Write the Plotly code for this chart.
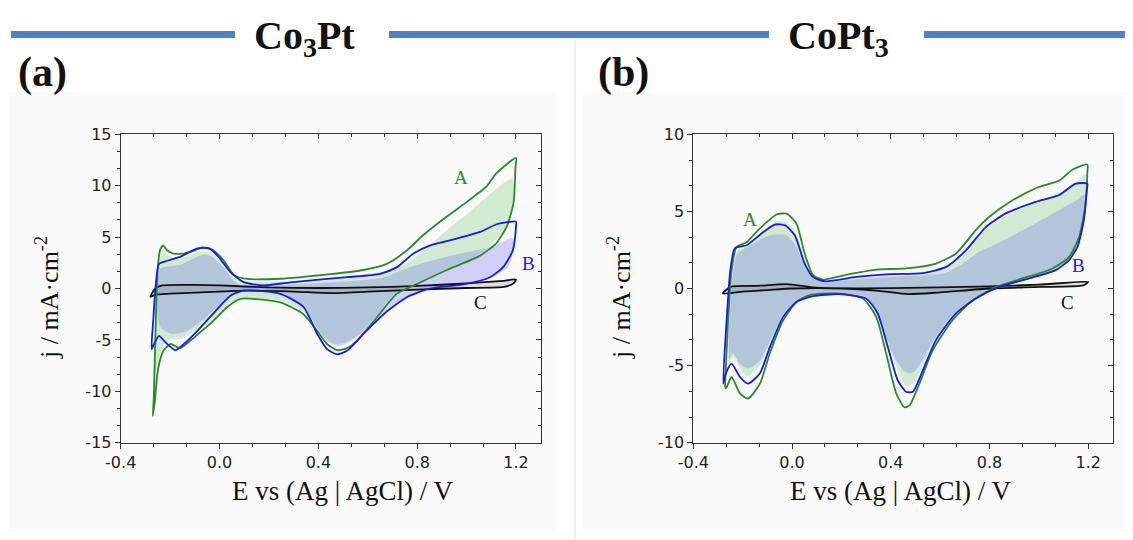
import plotly.graph_objects as go

WIN_W, WIN_H = 1133, 540
OX, OY = 8, 8  # page (body) offset of the figure inside the browser window
W, H = WIN_W - OX, WIN_H - OY  # figure size so the page does not overflow the window

# ---------------- data: panel (a) Co3Pt ----------------
a_A_x = [-0.270, -0.266, -0.261, -0.256, -0.250, -0.240, -0.228, -0.212, -0.186, -0.146, -0.100, -0.070, -0.030,
         0.018, 0.058, 0.105, 0.246, 0.448, 0.582, 0.677, 0.758, 0.825, 0.920, 1.000, 1.080, 1.120, 1.200,
         1.198, 1.190, 1.162, 1.120, 1.055, 0.920, 0.800, 0.718, 0.637, 0.556, 0.516, 0.476, 0.435, 0.395,
         0.340, 0.246, 0.085, 0.031, -0.023, -0.090, -0.160, -0.198, -0.228, -0.250, -0.262, -0.270]
a_A_y = [-12.4, -10.5, -6.0, -1.5, 2.0, 3.8, 4.2, 3.7, 3.4, 3.4, 3.7, 4.0, 3.8,
         2.7, 1.3, 0.95, 0.95, 1.4, 1.8, 2.4, 3.7, 5.2, 7.0, 8.4, 9.9, 11.2, 12.7,
         11.8, 8.3, 6.0, 4.4, 3.2, 1.8, 0.45, -0.5, -2.8, -5.1, -5.8, -6.0, -5.4, -4.1,
         -2.5, -1.35, -1.0, -1.8, -3.1, -4.5, -5.8, -5.4, -6.1, -8.0, -11.0, -12.4]

a_B_x = [-0.275, -0.268, -0.259, -0.245, -0.211, -0.158, -0.090, -0.043, -0.003, 0.044, 0.098, 0.179, 0.287,
         0.516, 0.650, 0.718, 0.785, 0.853, 0.960, 1.055, 1.122, 1.200,
         1.200, 1.187, 1.149, 1.095, 0.987, 0.853, 0.758, 0.664, 0.583, 0.516, 0.476, 0.435, 0.395,
         0.340, 0.246, 0.098, 0.044, -0.009, -0.077, -0.144, -0.178, -0.218, -0.245, -0.265, -0.275]
a_B_y = [-5.9, -3.0, 0.1, 2.4, 2.7, 3.1, 3.9, 3.9, 3.06, 1.6, 0.62, 0.3, 0.6,
         1.1, 1.43, 2.08, 3.4, 4.2, 4.86, 5.5, 6.25, 6.5,
         6.0, 3.7, 2.1, 1.1, 0.4, 0.0, -0.85, -2.5, -4.4, -6.06, -6.4, -5.9, -4.4,
         -1.8, -0.52, -0.2, -0.7, -2.0, -3.8, -5.4, -6.0, -5.25, -4.6, -5.4, -5.9]

a_C_x = [-0.280, -0.260, -0.232, -0.100, 0.000, 0.200, 0.400, 0.600, 0.800, 1.000, 1.150, 1.200,
         1.190, 1.150, 1.000, 0.800, 0.600, 0.450, 0.300, 0.100, -0.100, -0.200, -0.260, -0.280]
a_C_y = [-0.8, 0.0, 0.3, 0.35, 0.3, 0.1, 0.05, 0.1, 0.25, 0.5, 0.75, 0.88,
         0.5, 0.15, 0.05, -0.1, -0.3, -0.45, -0.3, -0.2, -0.4, -0.5, -0.6, -0.8]

a_fillA_x = [-0.265, -0.255, -0.245, -0.230, -0.190, -0.140, -0.070, -0.030, 0.020, 0.060, 0.100, 0.300,
             0.500, 0.650, 0.750, 0.850, 0.920, 1.000, 1.100, 1.185,
             1.190, 1.160, 1.100, 1.050, 0.920, 0.800, 0.720, 0.640, 0.560, 0.500, 0.470, 0.430, 0.390,
             0.340, 0.250, 0.090, 0.030, -0.020, -0.090, -0.160, -0.200, -0.230, -0.250, -0.265]
a_fillA_y = [-8.5, -1.0, 2.5, 3.6, 3.0, 3.1, 3.6, 3.4, 2.3, 1.0, 0.7, 0.7,
             1.1, 1.6, 2.3, 4.2, 5.7, 7.2, 9.3, 10.7,
             8.0, 5.8, 4.3, 3.3, 1.9, 0.6, -0.3, -2.5, -4.6, -5.3, -5.4, -4.9, -3.8,
             -2.3, -1.2, -0.9, -1.6, -2.8, -4.0, -4.9, -5.0, -5.6, -7.5, -8.5]

a_fillB_x = [-0.250, -0.240, -0.158, -0.065, -0.030, 0.018, 0.060, 0.100, 0.250, 0.448, 0.650, 0.785,
             0.920, 1.055, 1.095, 1.176, 1.188,
             1.188, 1.170, 1.120, 1.050, 0.950, 0.850, 0.760, 0.660, 0.580, 0.520, 0.480, 0.440, 0.400,
             0.340, 0.250, 0.100, 0.040, -0.010, -0.080, -0.140, -0.198, -0.238, -0.250]
a_fillB_y = [-3.0, 1.9, 2.3, 3.3, 3.1, 2.0, 0.7, 0.2, 0.3, 0.6, 1.0, 2.2,
             3.1, 3.8, 4.0, 4.9, 4.9,
             3.5, 2.2, 1.3, 0.7, 0.35, 0.0, -0.8, -2.4, -4.2, -5.3, -5.6, -5.2, -4.0,
             -1.8, -0.5, -0.2, -0.7, -1.8, -3.3, -4.2, -4.4, -3.8, -3.0]

# ---------------- data: panel (b) CoPt3 ----------------
b_A_x = [-0.272, -0.259, -0.245, -0.225, -0.184, -0.130, -0.063, -0.022, 0.018, 0.051, 0.085, 0.125, 0.233,
         0.341, 0.462, 0.583, 0.664, 0.745, 0.799, 0.880, 0.987, 1.082, 1.135, 1.196,
         1.196, 1.189, 1.163, 1.122, 1.055, 0.933, 0.826, 0.731, 0.650, 0.570, 0.516, 0.476, 0.455, 0.422,
         0.381, 0.341, 0.287, 0.180, 0.071, 0.018, -0.036, -0.090, -0.130, -0.178, -0.211, -0.245, -0.265, -0.272]
b_A_y = [-6.4, -2.06, 1.19, 2.7, 3.0, 3.9, 4.8, 4.85, 4.2, 2.27, 0.86, 0.58, 0.93,
         1.23, 1.3, 1.62, 2.27, 3.8, 4.65, 5.6, 6.5, 7.0, 7.7, 8.05,
         7.5, 5.5, 3.35, 2.05, 1.3, 0.65, 0.1, -0.76, -2.06, -4.0, -6.17, -7.58, -7.7, -6.8,
         -4.2, -1.84, -0.65, -0.32, -0.43, -0.87, -2.06, -4.2, -6.17, -7.14, -6.8, -5.74, -6.4, -6.5]

b_B_x = [-0.279, -0.265, -0.250, -0.232, -0.184, -0.124, -0.070, -0.029, 0.011, 0.051, 0.085, 0.132, 0.260,
         0.395, 0.530, 0.624, 0.705, 0.786, 0.866, 0.987, 1.082, 1.149, 1.196,
         1.194, 1.182, 1.156, 1.122, 1.068, 0.960, 0.839, 0.745, 0.664, 0.583, 0.530, 0.489, 0.462, 0.428,
         0.388, 0.347, 0.300, 0.193, 0.085, 0.018, -0.036, -0.090, -0.130, -0.178, -0.211, -0.245, -0.268, -0.279]
b_B_y = [-6.17, -2.06, 1.19, 2.6, 2.8, 3.57, 4.15, 4.1, 3.46, 1.62, 0.75, 0.47, 0.75,
         0.93, 1.0, 1.4, 2.49, 4.0, 4.87, 5.62, 6.06, 6.8, 6.8,
         6.4, 4.43, 2.7, 1.84, 1.19, 0.65, 0.1, -0.65, -1.62, -3.35, -5.3, -6.7, -6.7, -5.95,
         -3.8, -1.62, -0.65, -0.37, -0.5, -0.87, -1.84, -3.8, -5.5, -6.17, -5.74, -4.87, -5.5, -6.17]

b_C_x = [-0.280, -0.250, -0.144, -0.023, 0.050, 0.100, 0.400, 0.800, 1.000, 1.200,
         1.180, 1.000, 0.800, 0.600, 0.470, 0.350, 0.200, 0.000, -0.100, -0.200, -0.280]
b_C_y = [-0.32, 0.1, 0.17, 0.28, 0.15, 0.05, 0.02, 0.14, 0.25, 0.43,
         0.2, 0.1, 0.0, -0.25, -0.37, -0.15, 0.0, 0.0, -0.1, -0.2, -0.32]

b_fillA_x = [-0.255, -0.240, -0.220, -0.180, -0.130, -0.070, -0.030, 0.010, 0.050, 0.085, 0.130, 0.260,
             0.400, 0.530, 0.620, 0.700, 0.790, 0.870, 0.960, 1.080, 1.150, 1.190,
             1.190, 1.180, 1.160, 1.120, 1.070, 0.960, 0.840, 0.740, 0.660, 0.580, 0.530, 0.490, 0.460,
             0.430, 0.390, 0.350, 0.300, 0.190, 0.080, 0.020, -0.035, -0.090, -0.130, -0.180, -0.210,
             -0.240, -0.255]
b_fillA_y = [-5.0, 2.0, 2.5, 2.7, 3.5, 4.3, 4.4, 3.8, 2.0, 0.75, 0.5, 0.75,
             0.95, 1.05, 1.4, 2.4, 3.9, 4.75, 5.4, 6.2, 6.9, 7.4,
             6.5, 4.5, 2.7, 1.8, 1.2, 0.6, 0.1, -0.7, -1.7, -3.4, -5.0, -6.2, -6.3,
             -5.4, -3.6, -1.6, -0.6, -0.35, -0.5, -0.85, -1.8, -3.6, -5.0, -5.7, -5.2,
             -4.4, -5.0]

b_fillB_x = [-0.255, -0.225, -0.158, -0.090, -0.023, 0.018, 0.058, 0.099, 0.130, 0.260, 0.400, 0.530,
             0.620, 0.690, 0.760, 0.830, 0.960, 1.050, 1.150, 1.185,
             1.185, 1.160, 1.120, 1.070, 0.960, 0.840, 0.745, 0.660, 0.580, 0.530, 0.500, 0.476, 0.450,
             0.420, 0.385, 0.345, 0.300, 0.190, 0.085, 0.020, -0.035, -0.090, -0.130, -0.180, -0.210,
             -0.240, -0.255]
b_fillB_y = [-4.6, 2.16, 2.9, 3.46, 3.46, 2.7, 1.19, 0.65, 0.4, 0.6, 0.75, 0.85,
             1.0, 1.6, 2.4, 2.9, 4.0, 4.8, 5.7, 6.1,
             4.5, 2.8, 1.9, 1.25, 0.7, 0.12, -0.6, -1.55, -3.2, -4.6, -5.3, -5.5, -5.3,
             -4.6, -3.3, -1.5, -0.55, -0.3, -0.45, -0.8, -1.7, -3.4, -4.7, -5.2, -4.9,
             -4.2, -4.6]

# ---------------- axes ticks ----------------
x_ticks = [-0.4, 0.0, 0.4, 0.8, 1.2]
x_ticktext = ["-0.4", "0.0", "0.4", "0.8", "1.2"]
ya_ticks = [-15, -10, -5, 0, 5, 10, 15]
ya_ticktext = ["-15", "-10", "-5", "0", "5", "10", "15"]
yb_ticks = [-10, -5, 0, 5, 10]
yb_ticktext = ["-10", "-5", "0", "5", "10"]

GREEN = "#2a8a2a"
BLUE = "#1a1ae0"
BLACK = "#111111"
FILL_GREEN = "rgba(120,200,120,0.30)"
FILL_BLUE = "rgba(100,100,240,0.28)"
FILL_C = "rgba(60,60,90,0.14)"
LW = 1.8

fig = go.Figure()


def add_panel(xa, ya, xo, yo, fa_x, fa_y, fb_x, fb_y, A_x, A_y, B_x, B_y, C_x, C_y):
    common = dict(xaxis=xa, yaxis=ya, mode="lines", hoverinfo="skip", showlegend=False)
    fig.add_trace(go.Scatter(x=fa_x, y=fa_y, fill="toself", fillcolor=FILL_GREEN,
                             line=dict(width=0, shape="spline", smoothing=0.6), **common))
    fig.add_trace(go.Scatter(x=fb_x, y=fb_y, fill="toself", fillcolor=FILL_BLUE,
                             line=dict(width=0, shape="spline", smoothing=0.6), **common))
    fig.add_trace(go.Scatter(x=C_x, y=C_y, fill="toself", fillcolor=FILL_C,
                             line=dict(color=BLACK, width=LW, shape="spline", smoothing=0.6), **common))
    fig.add_trace(go.Scatter(x=A_x, y=A_y,
                             line=dict(color=GREEN, width=LW, shape="spline", smoothing=0.6), **common))
    fig.add_trace(go.Scatter(x=B_x, y=B_y,
                             line=dict(color=BLUE, width=LW, shape="spline", smoothing=0.6), **common))
    # invisible carriers so the mirrored (top / right) frame axes are drawn
    fig.add_trace(go.Scatter(x=C_x, y=C_y, xaxis=xo, yaxis=ya, mode="lines", line=dict(width=0),
                             opacity=0, hoverinfo="skip", showlegend=False))
    fig.add_trace(go.Scatter(x=C_x, y=C_y, xaxis=xa, yaxis=yo, mode="lines", line=dict(width=0),
                             opacity=0, hoverinfo="skip", showlegend=False))


add_panel("x", "y", "x3", "y3", a_fillA_x, a_fillA_y, a_fillB_x, a_fillB_y,
          a_A_x, a_A_y, a_B_x, a_B_y, a_C_x, a_C_y)
add_panel("x2", "y2", "x4", "y4", b_fillA_x, b_fillA_y, b_fillB_x, b_fillB_y,
          b_A_x, b_A_y, b_B_x, b_B_y, b_C_x, b_C_y)


def PX(x):
    return (x - OX) / W


def PY(y):
    return 1 - (y - OY) / H


XDOM_A = [PX(120.7), PX(540.7)]
XDOM_B = [PX(693.3), PX(1113.0)]
YDOM = [PY(442.7), PY(134.3)]
AX = "#333333"
TICKFONT = dict(family="DejaVu Sans", size=16, color="#222222")


def xax(dom, anchor, overlay=None):
    d = dict(range=[-0.4, 1.3], tickmode="array", tickvals=x_ticks, ticktext=x_ticktext,
             showline=True, linecolor=AX, linewidth=1, showgrid=False, zeroline=False,
             tickcolor=AX, ticklen=5, tickfont=TICKFONT, anchor=anchor, fixedrange=True,
             automargin=False,
             minor=dict(tickmode="linear", tick0=-0.4, dtick=0.4 / 3, ticklen=3, tickcolor=AX))
    if overlay:
        d.update(overlaying=overlay, side="top", ticks="inside", showticklabels=False)
        d["minor"]["ticks"] = "inside"
    else:
        d.update(domain=dom, ticks="outside")
        d["minor"]["ticks"] = "outside"
    return d


def yax(rng, tv, tt, anchor, overlay=None):
    d = dict(range=rng, tickmode="array", tickvals=tv, ticktext=tt,
             showline=True, linecolor=AX, linewidth=1, showgrid=False, zeroline=False,
             tickcolor=AX, ticklen=5, tickfont=TICKFONT, anchor=anchor, fixedrange=True,
             automargin=False,
             minor=dict(tickmode="linear", tick0=rng[0], dtick=5 / 3, ticklen=3, tickcolor=AX))
    if overlay:
        d.update(overlaying=overlay, side="right", ticks="inside", showticklabels=False)
        d["minor"]["ticks"] = "inside"
    else:
        d.update(domain=YDOM, ticks="outside")
        d["minor"]["ticks"] = "outside"
    return d


shapes = []
# faint panel backgrounds
for x0, x1 in [(10, 556), (582, 1126)]:
    shapes.append(dict(type="rect", xref="paper", yref="paper", x0=PX(x0), x1=PX(x1),
                       y0=PY(532), y1=PY(92), fillcolor="#fafafa", line=dict(width=0), layer="below"))
# separator
shapes.append(dict(type="line", xref="paper", yref="paper", x0=PX(575), x1=PX(575),
                   y0=0, y1=PY(40), line=dict(color="#d5e0e8", width=1)))
# blue header bars
for x0, x1 in [(11, 235), (389, 769), (924, 1133)]:
    shapes.append(dict(type="rect", xref="paper", yref="paper", x0=PX(x0), x1=PX(x1),
                       y0=PY(38), y1=PY(31), fillcolor="#5081c0", line=dict(width=0)))

SERIF = "Liberation Serif"
ann = []


def txt(x, y, s, size, color="#111111", bold=False, xanchor="center", yanchor="middle", angle=0,
        xref="paper", yref="paper"):
    if xref == "paper":
        x = PX(x)
    if yref == "paper":
        y = PY(y)
    ann.append(dict(x=x, y=y, xref=xref, yref=yref, text=("<b>%s</b>" % s) if bold else s,
                    showarrow=False, xanchor=xanchor, yanchor=yanchor, textangle=angle,
                    font=dict(family=SERIF, size=size, color=color)))


txt(304, 38, "Co<sub>3</sub>Pt", 40, bold=True)
txt(838, 38, "CoPt<sub>3</sub>", 40, bold=True)
txt(16, 73, "(a)", 42, bold=True, xanchor="left")
txt(596, 73, "(b)", 42, bold=True, xanchor="left")
txt(343, 491, "E vs (Ag | AgCl) / V", 27)
txt(900, 491, "E vs (Ag | AgCl) / V", 27)
txt(47, 298, "j / mA·cm<sup>-2</sup>", 26, angle=-90)
txt(619, 298, "j / mA·cm<sup>-2</sup>", 26, angle=-90)
# curve labels
txt(0.978, 10.75, "A", 19, color=GREEN, xref="x", yref="y")
txt(1.25, 2.4, "B", 19, color=BLUE, xref="x", yref="y")
txt(1.055, -1.4, "C", 19, color=BLACK, xref="x", yref="y")
txt(-0.172, 4.5, "A", 19, color=GREEN, xref="x2", yref="y2")
txt(1.162, 1.5, "B", 19, color=BLUE, xref="x2", yref="y2")
txt(1.114, -0.9, "C", 19, color=BLACK, xref="x2", yref="y2")

fig.update_layout(
    width=W, height=H, autosize=False,
    margin=dict(l=0, r=0, t=0, b=0, pad=0, autoexpand=False),
    paper_bgcolor="white", plot_bgcolor="rgba(0,0,0,0)",
    xaxis=xax(XDOM_A, "y"),
    yaxis=yax([-15, 15], ya_ticks, ya_ticktext, "x"),
    xaxis2=xax(XDOM_B, "y2"),
    yaxis2=yax([-10, 10], yb_ticks, yb_ticktext, "x2"),
    xaxis3=xax(None, "y", overlay="x"),
    yaxis3=yax([-15, 15], ya_ticks, ya_ticktext, "x", overlay="y"),
    xaxis4=xax(None, "y2", overlay="x2"),
    yaxis4=yax([-10, 10], yb_ticks, yb_ticktext, "x2", overlay="y2"),
    shapes=shapes, annotations=ann, showlegend=False,
)

fig.write_html("out.html")
